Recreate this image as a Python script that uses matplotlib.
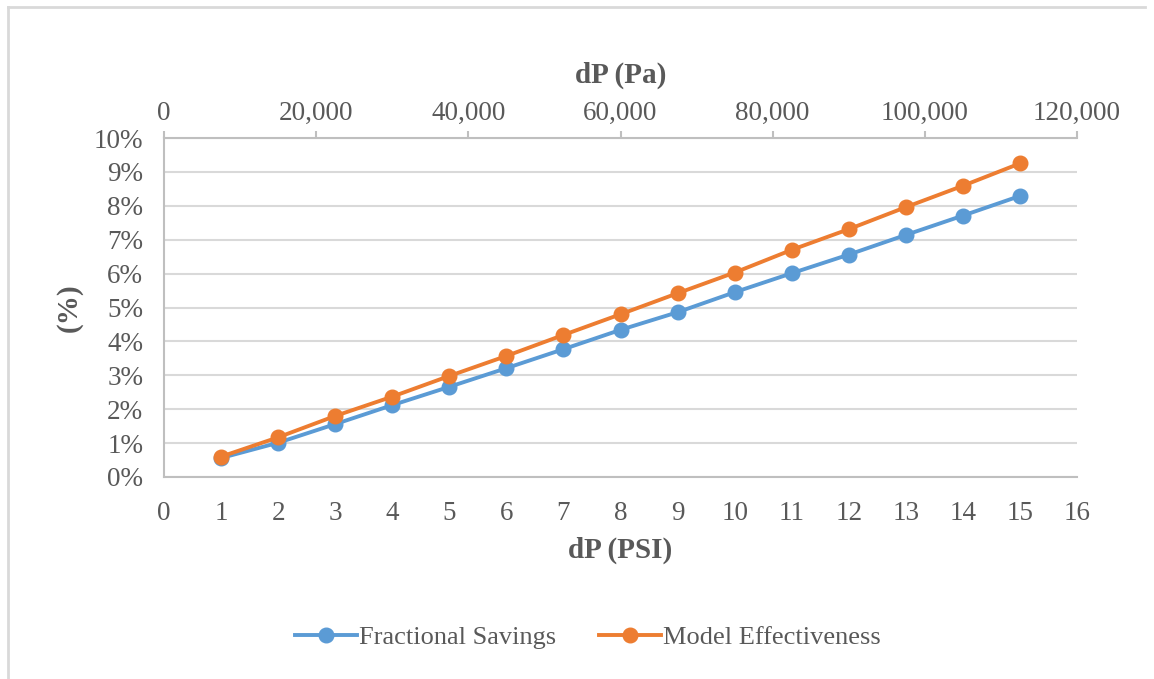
import matplotlib
matplotlib.use("Agg")
import matplotlib.pyplot as plt
from matplotlib.lines import Line2D
from matplotlib.ticker import FuncFormatter, MultipleLocator

plt.rcParams['font.family'] = ['Liberation Serif', 'DejaVu Serif']

# data
psi = [1, 2, 3, 4, 5, 6, 7, 8, 9, 10, 11, 12, 13, 14, 15]
fractional_savings = [0.56, 1.01, 1.56, 2.12, 2.66, 3.21, 3.77, 4.34, 4.86, 5.45,
                      6.01, 6.56, 7.14, 7.71, 8.29]
model_effectiveness = [0.60, 1.17, 1.80, 2.37, 2.98, 3.57, 4.19, 4.80, 5.42, 6.03,
                       6.70, 7.31, 7.96, 8.59, 9.25]
labels = ["Fractional Savings", "Model Effectiveness"]

blue = '#5B9BD5'
orange = '#ED7D31'
textc = '#595959'
spinec = '#BFBFBF'
gridc = '#D9D9D9'
tick_fs = 19.5
title_fs = 21

fig = plt.figure(figsize=(11.54, 6.79), dpi=100)
ax = fig.add_axes([164/1154, 1 - 477/679, (1077 - 164)/1154, (477 - 138)/679])

ax.plot(psi, fractional_savings, color=blue, lw=2.8, marker='o', ms=10.5, label=labels[0], zorder=3)
ax.plot(psi, model_effectiveness, color=orange, lw=2.8, marker='o', ms=10.5, label=labels[1], zorder=4)

ax.set_xlim(0, 16)
ax.set_ylim(0, 10)
ax.xaxis.set_major_locator(MultipleLocator(1))
ax.yaxis.set_major_locator(MultipleLocator(1))
ax.yaxis.set_major_formatter(FuncFormatter(lambda v, p: f"{int(round(v))}%"))
ax.grid(axis='y', color=gridc, lw=1.5)
ax.set_axisbelow(True)
ax.tick_params(axis='both', length=0, labelsize=tick_fs, labelcolor=textc)
ax.tick_params(axis='x', pad=17)
ax.tick_params(axis='y', pad=15)
for s in ['top', 'right']:
    ax.spines[s].set_visible(False)
for s in ['left', 'bottom']:
    ax.spines[s].set_color(spinec)
    ax.spines[s].set_linewidth(1.5)

ax.set_xlabel('dP (PSI)', fontsize=title_fs, fontweight='bold', color=textc, labelpad=8)
ax.set_ylabel('(%)', fontsize=title_fs, fontweight='bold', color=textc, labelpad=8)

# secondary axis for pascal
ax2 = ax.twiny()
ax2.set_xlim(0, 120000)
ax2.xaxis.set_major_locator(MultipleLocator(20000))
ax2.xaxis.set_major_formatter(FuncFormatter(lambda v, p: f"{int(v):,}"))
ax2.tick_params(axis='x', direction='out', length=5, width=1.5, color=spinec,
                labelsize=tick_fs, labelcolor=textc, pad=4)
for s in ['left', 'right', 'bottom']:
    ax2.spines[s].set_visible(False)
ax2.spines['top'].set_color(spinec)
ax2.spines['top'].set_linewidth(1.5)
ax2.set_xlabel('dP (Pa)', fontsize=title_fs, fontweight='bold', color=textc, labelpad=13)

handles = [Line2D([], [], color=blue, lw=2.8, marker='o', ms=10.5),
           Line2D([], [], color=orange, lw=2.8, marker='o', ms=10.5)]
fig.legend(handles, labels, loc='center', bbox_to_anchor=(588/1154, 1 - 637/679), ncol=2,
           frameon=False, fontsize=19, labelcolor=textc, handlelength=2.35,
           handletextpad=0.1, columnspacing=1.6)

# outer chart border (only top and left visible in the crop)
fig.add_artist(Line2D([8/1154, 1145/1154], [1 - 7/679, 1 - 7/679], color=gridc, lw=2,
                      transform=fig.transFigure))
fig.add_artist(Line2D([8/1154, 8/1154], [1 - 7/679, 0], color=gridc, lw=2,
                      transform=fig.transFigure))

fig.savefig('out.png', dpi=100)
